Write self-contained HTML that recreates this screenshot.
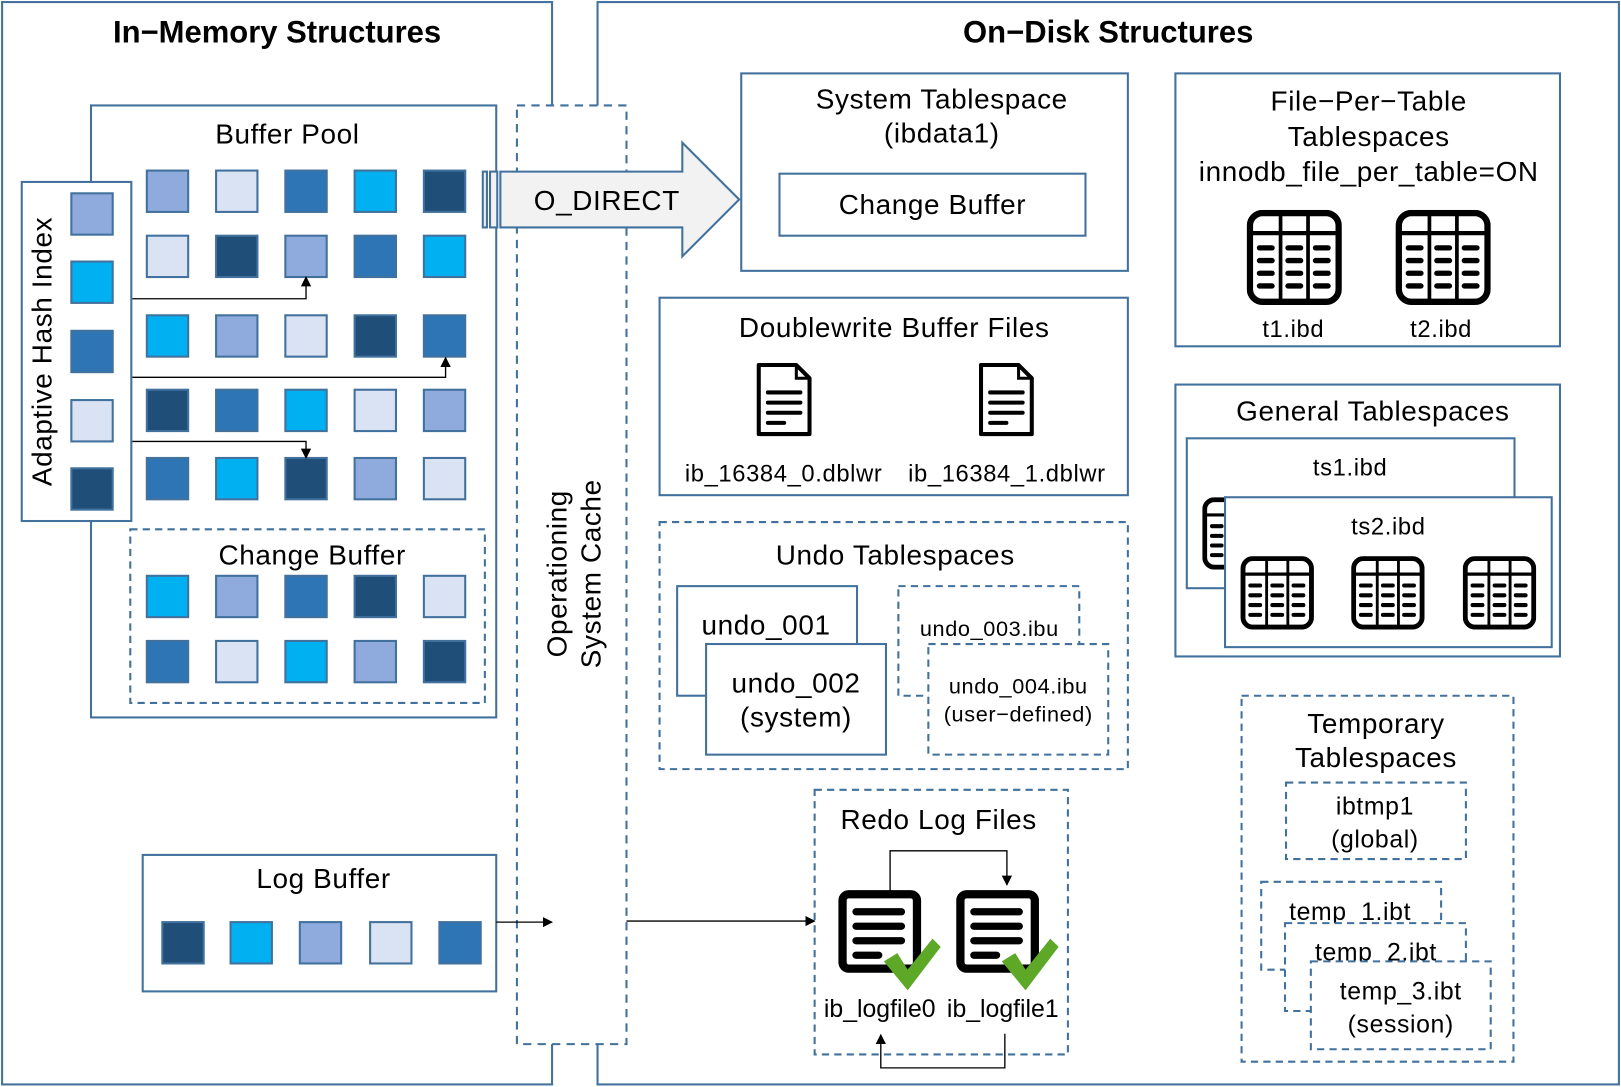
<!DOCTYPE html>
<html><head><meta charset="utf-8"><style>
html,body{margin:0;padding:0;background:#fff;}
svg{display:block;}
text{font-family:"Liberation Sans","NanumGothic",sans-serif;fill:#000;letter-spacing:0.6px;}
</style></head><body>
<svg width="1621" height="1087" viewBox="0 0 1568 1051.5" xmlns="http://www.w3.org/2000/svg">
<defs>
<symbol id="tbl" viewBox="0 0 90 90">
<rect x="3" y="3" width="84" height="84" rx="12" fill="#fff" stroke="#000" stroke-width="6"/>
<line x1="3" y1="22" x2="87" y2="22" stroke="#000" stroke-width="4"/>
<line x1="32" y1="3" x2="32" y2="87" stroke="#000" stroke-width="3.5"/>
<line x1="58" y1="3" x2="58" y2="87" stroke="#000" stroke-width="3.5"/>
<g stroke="#000" stroke-width="5" stroke-linecap="round">
<path d="M12 36H24M12 48H24M12 60H24M12 72H24M39 36H51M39 48H51M39 60H51M39 72H51M65 36H77M65 48H77M65 60H77M65 72H77"/>
</g>
</symbol>
<symbol id="doc" viewBox="0 0 56 74">
<path d="M3 3H40L53 16V71H3Z" fill="#fff" stroke="#000" stroke-width="4" stroke-linejoin="round"/>
<path d="M40 3V16H53" fill="none" stroke="#000" stroke-width="3"/>
<g stroke="#000" stroke-width="4" stroke-linecap="round"><path d="M12 30H44M12 40H44M12 50H44M12 60H28"/></g>
</symbol>
<symbol id="redo" viewBox="0 0 100 100">
<rect x="5" y="5" width="72" height="72" rx="6" fill="#fff" stroke="#000" stroke-width="8"/>
<g stroke="#000" stroke-width="7" stroke-linecap="round"><path d="M18 22H62M18 36H62M18 50H62M18 64H40"/></g>
<path d="M45 70L58 62L68 78L92 48L100 56L68 98Z" fill="#5ea828"/>
</symbol>
<marker id="ah" markerWidth="10" markerHeight="10" refX="9" refY="5" orient="auto" markerUnits="userSpaceOnUse"><path d="M0 0L10 5L0 10Z" fill="#000"/></marker>
</defs>
<g fill="none" stroke="#41719c" stroke-width="2">
<rect x="2" y="2" width="532" height="1047"/>
<rect x="578" y="2" width="988" height="1047"/>
</g>
<text x="268" y="41" font-size="30" font-weight="bold" text-anchor="middle" style="letter-spacing:0">In−Memory Structures</text>
<text x="1072" y="41" font-size="30" font-weight="bold" text-anchor="middle" style="letter-spacing:0">On−Disk Structures</text>

<!-- OS cache -->
<rect x="500" y="102" width="106" height="908" fill="#fff" stroke="#41719c" stroke-width="2" stroke-dasharray="8,6"/>
<text transform="translate(548,555) rotate(-90)" font-size="27" text-anchor="middle">Operationing</text>
<text transform="translate(581,555) rotate(-90)" font-size="27" text-anchor="middle">System Cache</text>

<!-- Buffer pool -->
<rect x="88" y="102" width="392" height="592" fill="#fff" stroke="#41719c" stroke-width="2"/>
<text x="278" y="139" font-size="27" text-anchor="middle">Buffer Pool</text>
<g stroke="#41719c" stroke-width="2">
<rect x="142" y="165" width="40" height="40" fill="#8faadc"/><rect x="209" y="165" width="40" height="40" fill="#dae3f3"/><rect x="276" y="165" width="40" height="40" fill="#2e75b6"/><rect x="343" y="165" width="40" height="40" fill="#00b0f0"/><rect x="410" y="165" width="40" height="40" fill="#1f4e79"/>
<rect x="142" y="228" width="40" height="40" fill="#dae3f3"/><rect x="209" y="228" width="40" height="40" fill="#1f4e79"/><rect x="276" y="228" width="40" height="40" fill="#8faadc"/><rect x="343" y="228" width="40" height="40" fill="#2e75b6"/><rect x="410" y="228" width="40" height="40" fill="#00b0f0"/>
<rect x="142" y="305" width="40" height="40" fill="#00b0f0"/><rect x="209" y="305" width="40" height="40" fill="#8faadc"/><rect x="276" y="305" width="40" height="40" fill="#dae3f3"/><rect x="343" y="305" width="40" height="40" fill="#1f4e79"/><rect x="410" y="305" width="40" height="40" fill="#2e75b6"/>
<rect x="142" y="377" width="40" height="40" fill="#1f4e79"/><rect x="209" y="377" width="40" height="40" fill="#2e75b6"/><rect x="276" y="377" width="40" height="40" fill="#00b0f0"/><rect x="343" y="377" width="40" height="40" fill="#dae3f3"/><rect x="410" y="377" width="40" height="40" fill="#8faadc"/>
<rect x="142" y="443" width="40" height="40" fill="#2e75b6"/><rect x="209" y="443" width="40" height="40" fill="#00b0f0"/><rect x="276" y="443" width="40" height="40" fill="#1f4e79"/><rect x="343" y="443" width="40" height="40" fill="#8faadc"/><rect x="410" y="443" width="40" height="40" fill="#dae3f3"/>
</g>
<!-- AHI -->
<rect x="21" y="176" width="106" height="328" fill="#fff" stroke="#41719c" stroke-width="2"/>
<text transform="translate(50,340) rotate(-90)" font-size="27" text-anchor="middle">Adaptive Hash Index</text>
<g stroke="#41719c" stroke-width="2">
<rect x="69" y="187" width="40" height="40" fill="#8faadc"/><rect x="69" y="253" width="40" height="40" fill="#00b0f0"/><rect x="69" y="320" width="40" height="40" fill="#2e75b6"/><rect x="69" y="387" width="40" height="40" fill="#dae3f3"/><rect x="69" y="453" width="40" height="40" fill="#1f4e79"/>
</g>
<g fill="none" stroke="#000" stroke-width="1.3">
<path d="M128 289H296V268" marker-end="url(#ah)"/>
<path d="M128 365H431V346" marker-end="url(#ah)"/>
<path d="M128 427H296V443" marker-end="url(#ah)"/>
</g>
<!-- change buffer mem -->
<rect x="126" y="512" width="343" height="168" fill="none" stroke="#41719c" stroke-width="2" stroke-dasharray="7,5"/>
<text x="302" y="546" font-size="27" text-anchor="middle">Change Buffer</text>
<g stroke="#41719c" stroke-width="2">
<rect x="142" y="557" width="40" height="40" fill="#00b0f0"/><rect x="209" y="557" width="40" height="40" fill="#8faadc"/><rect x="276" y="557" width="40" height="40" fill="#2e75b6"/><rect x="343" y="557" width="40" height="40" fill="#1f4e79"/><rect x="410" y="557" width="40" height="40" fill="#dae3f3"/>
<rect x="142" y="620" width="40" height="40" fill="#2e75b6"/><rect x="209" y="620" width="40" height="40" fill="#dae3f3"/><rect x="276" y="620" width="40" height="40" fill="#00b0f0"/><rect x="343" y="620" width="40" height="40" fill="#8faadc"/><rect x="410" y="620" width="40" height="40" fill="#1f4e79"/>
</g>
<!-- Log buffer -->
<rect x="138" y="827" width="342" height="132" fill="#fff" stroke="#41719c" stroke-width="2"/>
<text x="313" y="859" font-size="27" text-anchor="middle">Log Buffer</text>
<g stroke="#41719c" stroke-width="2">
<rect x="157" y="892" width="40" height="40" fill="#1f4e79"/><rect x="223" y="892" width="40" height="40" fill="#00b0f0"/><rect x="290" y="892" width="40" height="40" fill="#8faadc"/><rect x="358" y="892" width="40" height="40" fill="#dae3f3"/><rect x="425" y="892" width="40" height="40" fill="#2e75b6"/>
</g>
<path d="M480 892H534" stroke="#000" stroke-width="1.3" marker-end="url(#ah)"/>
<path d="M606 891H788" stroke="#000" stroke-width="1.3" marker-end="url(#ah)"/>

<!-- O_DIRECT -->
<g fill="#f2f2f2" stroke="#41719c" stroke-width="2">
<rect x="467" y="166" width="4" height="54"/><rect x="474" y="166" width="7" height="54"/>
<path d="M484 166H660V138L715 193L660 248V220H484Z"/>
</g>
<text x="587" y="203" font-size="27" text-anchor="middle">O_DIRECT</text>

<!-- System tablespace -->
<rect x="717" y="71" width="374" height="191" fill="none" stroke="#41719c" stroke-width="2"/>
<text x="911" y="105" font-size="27" text-anchor="middle">System Tablespace</text>
<text x="911" y="138" font-size="27" text-anchor="middle">(ibdata1)</text>
<rect x="754" y="168" width="296" height="60" fill="none" stroke="#41719c" stroke-width="2"/>
<text x="902" y="207" font-size="27" text-anchor="middle">Change Buffer</text>

<!-- Doublewrite -->
<rect x="638" y="288" width="453" height="191" fill="none" stroke="#41719c" stroke-width="2"/>
<text x="865" y="326" font-size="27" text-anchor="middle">Doublewrite Buffer Files</text>
<use href="#doc" x="731" y="350" width="55" height="73"/>
<use href="#doc" x="946" y="350" width="55" height="73"/>
<text x="758" y="466" font-size="23" text-anchor="middle">ib_16384_0.dblwr</text>
<text x="974" y="466" font-size="23" text-anchor="middle">ib_16384_1.dblwr</text>

<!-- Undo -->
<rect x="638" y="505" width="453" height="239" fill="none" stroke="#41719c" stroke-width="2" stroke-dasharray="7,5"/>
<text x="866" y="546" font-size="27" text-anchor="middle">Undo Tablespaces</text>
<rect x="655" y="567" width="174" height="106" fill="#fff" stroke="#41719c" stroke-width="2"/>
<text x="741" y="614" font-size="27" text-anchor="middle">undo_001</text>
<rect x="683" y="623" width="174" height="107" fill="#fff" stroke="#41719c" stroke-width="2"/>
<text x="770" y="670" font-size="27" text-anchor="middle">undo_002</text>
<text x="770" y="703" font-size="27" text-anchor="middle">(system)</text>
<rect x="869" y="567" width="175" height="106" fill="#fff" stroke="#41719c" stroke-width="2" stroke-dasharray="7,5"/>
<text x="957" y="615" font-size="21" text-anchor="middle">undo_003.ibu</text>
<rect x="898" y="623" width="174" height="107" fill="#fff" stroke="#41719c" stroke-width="2" stroke-dasharray="7,5"/>
<text x="985" y="671" font-size="21" text-anchor="middle">undo_004.ibu</text>
<text x="985" y="698" font-size="21" text-anchor="middle">(user−defined)</text>

<!-- Redo -->
<rect x="788" y="764" width="245" height="256" fill="none" stroke="#41719c" stroke-width="2" stroke-dasharray="7,5"/>
<text x="908" y="802" font-size="27" text-anchor="middle">Redo Log Files</text>
<g fill="none" stroke="#000" stroke-width="1.3">
<path d="M861 863V823H974V856" marker-end="url(#ah)"/>
<path d="M972 1000V1033H852V1001" marker-end="url(#ah)"/>
</g>
<use href="#redo" x="810" y="860" width="100" height="100"/>
<use href="#redo" x="924" y="860" width="100" height="100"/>
<text x="851" y="984" font-size="24" text-anchor="middle" style="letter-spacing:0">ib_logfile0</text>
<text x="970" y="984" font-size="24" text-anchor="middle" style="letter-spacing:0">ib_logfile1</text>

<!-- File per table -->
<rect x="1137" y="71" width="372" height="264" fill="none" stroke="#41719c" stroke-width="2"/>
<text x="1324" y="107" font-size="27" text-anchor="middle">File−Per−Table</text>
<text x="1324" y="141" font-size="27" text-anchor="middle">Tablespaces</text>
<text x="1324" y="175" font-size="27" text-anchor="middle">innodb_file_per_table=ON</text>
<use href="#tbl" x="1206" y="203" width="92" height="92"/>
<use href="#tbl" x="1350" y="203" width="92" height="92"/>
<text x="1251" y="326" font-size="23" text-anchor="middle">t1.ibd</text>
<text x="1394" y="326" font-size="23" text-anchor="middle">t2.ibd</text>

<!-- General -->
<rect x="1137" y="372" width="372" height="263" fill="none" stroke="#41719c" stroke-width="2"/>
<text x="1328" y="407" font-size="27" text-anchor="middle">General Tablespaces</text>
<rect x="1148" y="424" width="317" height="145" fill="#fff" stroke="#41719c" stroke-width="2"/>
<text x="1306" y="460" font-size="23" text-anchor="middle">ts1.ibd</text>
<use href="#tbl" x="1163" y="481" width="70" height="70"/>
<rect x="1185" y="481" width="316" height="145" fill="#fff" stroke="#41719c" stroke-width="2"/>
<text x="1343" y="517" font-size="23" text-anchor="middle">ts2.ibd</text>
<use href="#tbl" x="1200" y="538" width="71" height="71"/>
<use href="#tbl" x="1307" y="538" width="71" height="71"/>
<use href="#tbl" x="1415" y="538" width="71" height="71"/>

<!-- Temporary -->
<rect x="1201" y="673" width="263" height="354" fill="none" stroke="#41719c" stroke-width="2" stroke-dasharray="7,5"/>
<text x="1331" y="709" font-size="27" text-anchor="middle">Temporary</text>
<text x="1331" y="742" font-size="27" text-anchor="middle">Tablespaces</text>
<rect x="1244" y="757" width="174" height="74" fill="#fff" stroke="#41719c" stroke-width="2" stroke-dasharray="7,5"/>
<text x="1330" y="788" font-size="24" text-anchor="middle">ibtmp1</text>
<text x="1330" y="820" font-size="24" text-anchor="middle">(global)</text>
<rect x="1220" y="853" width="174" height="85" fill="#fff" stroke="#41719c" stroke-width="2" stroke-dasharray="7,5"/>
<text x="1306" y="890" font-size="24" text-anchor="middle">temp_1.ibt</text>
<rect x="1243" y="893" width="175" height="85" fill="#fff" stroke="#41719c" stroke-width="2" stroke-dasharray="7,5"/>
<text x="1331" y="929" font-size="24" text-anchor="middle">temp_2.ibt</text>
<rect x="1268" y="930" width="174" height="85" fill="#fff" stroke="#41719c" stroke-width="2" stroke-dasharray="7,5"/>
<text x="1355" y="967" font-size="24" text-anchor="middle">temp_3.ibt</text>
<text x="1355" y="999" font-size="24" text-anchor="middle">(session)</text>
</svg>
</body></html>
